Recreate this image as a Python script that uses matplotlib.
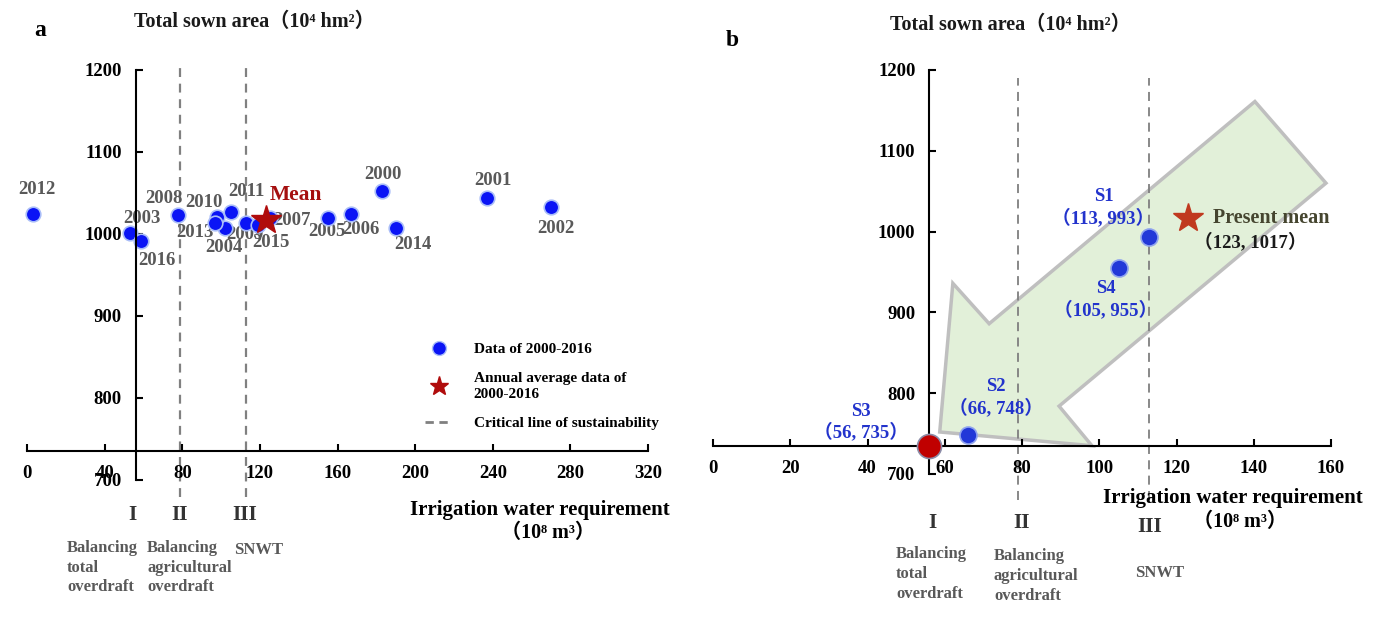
import matplotlib
matplotlib.use("Agg")
import matplotlib.pyplot as plt
from matplotlib.lines import Line2D
from matplotlib.patches import Polygon

plt.rcParams['font.family'] = ['Liberation Serif', 'Noto Sans CJK SC', 'DejaVu Serif']
plt.rcParams['font.weight'] = 'bold'

# ---- data: panel a (2000-2016)
years = ['2000', '2001', '2002', '2003', '2004', '2005', '2006', '2007', '2008',
         '2009', '2010', '2011', '2012', '2013', '2014', '2015', '2016']
water_a = [183, 237, 270, 53, 102, 155, 167, 125, 78, 113, 98, 105, 3, 97, 190, 119, 59]
area_a = [1052, 1044, 1033, 1001, 1007, 1020, 1024, 1020, 1023, 1013, 1021, 1027,
          1024, 1014, 1007, 1011, 991]
mean_water = 123
mean_area = 1017

# critical lines (I is the y axis itself)
origin_water = 56
origin_area = 735
critical_water = [79, 113]

# ---- data: panel b (scenarios)
scen_names = ['S1', 'S2', 'S3', 'S4']
scen_water = [113, 66, 56, 105]
scen_area = [993, 748, 735, 955]

# big arrow outline (panel b, data units)
arrow_water = [140.3, 158.7, 89.6, 98.1, 58.7, 62.1, 71.5]
arrow_area = [1161, 1060, 784, 735, 752, 936, 886]

ticks_a = [0, 40, 80, 120, 160, 200, 240, 280, 320]
ticks_b = [0, 20, 40, 60, 80, 100, 120, 140, 160]
ticks_y = [700, 800, 900, 1000, 1100, 1200]

# label offsets in pixels (layout only)
year_offsets = {
    '2012': (4, 25), '2003': (12, 15), '2016': (15, -19), '2008': (-14, 17),
    '2010': (-13, 14), '2013': (-20, -10), '2004': (-1, -19), '2011': (16, 20),
    '2009': (-1, -11), '2007': (22, -3), '2015': (13, -18), '2005': (-1, -14),
    '2006': (10, -15), '2000': (1, 17), '2014': (17, -16), '2001': (6, 17),
    '2002': (5, -22),
}
scen_offsets = {'S1': (-46, 10), 'S2': (28, 18), 'S3': (-68, 4), 'S4': (-13, -12)}

W, H = 1380, 620
fig = plt.figure(figsize=(13.8, 6.2), dpi=100)


def fx(x, y):
    return x / W, 1 - y / H


def style_axes(ax, xticks):
    for s in ['top', 'right']:
        ax.spines[s].set_visible(False)
    ax.spines['left'].set_position(('data', origin_water))
    ax.spines['bottom'].set_position(('data', origin_area))
    ax.spines['left'].set_bounds(700, 1200)
    ax.spines['bottom'].set_bounds(xticks[0], xticks[-1])
    for s in ['left', 'bottom']:
        ax.spines[s].set_linewidth(1.5)
        ax.spines[s].set_zorder(4)
    ax.set_xticks(xticks)
    ax.set_yticks(ticks_y)
    ax.tick_params(direction='in', length=5, width=1.5, pad=10, labelsize=13.5)
    ax.set_ylim(700, 1200)
    ax.set_facecolor('none')
    for lab in ax.get_xticklabels() + ax.get_yticklabels():
        lab.set_fontweight('bold')


# ================= panel a
ax1 = fig.add_axes([27 / W, 1 - 480 / H, 621 / W, 410 / H])
ax1.set_xlim(0, 320)
style_axes(ax1, ticks_a)

for xv in critical_water:
    ax1.plot([xv, xv], [679, 1205], ls=(0, (4, 3)), lw=1.6, color='#808080',
             zorder=1, clip_on=False)

ax1.scatter(water_a, area_a, s=110, color='#0A14F5', edgecolors='#A9BDF8',
            linewidths=1.2, zorder=3, clip_on=False)
ax1.plot(mean_water, mean_area, marker='*', ms=22, color='#B00C0C', ls='none', zorder=5)

for yr, xv, yv in zip(years, water_a, area_a):
    dx, dy = year_offsets[yr]
    ax1.annotate(yr, (xv, yv), xytext=(dx, dy), textcoords='offset pixels',
                 ha='center', va='center', fontsize=13.5, color='#595959',
                 fontweight='bold', zorder=2)
ax1.annotate('Mean', (mean_water, mean_area), xytext=(30, 25), textcoords='offset pixels',
             ha='center', va='center', fontsize=15.5, color='#A50F0F', fontweight='bold')

h1 = Line2D([], [], ls='none', marker='o', ms=10, mfc='#0A14F5', mec='#A9BDF8')
h2 = Line2D([], [], ls='none', marker='*', ms=14, color='#B00C0C', mec='#B00C0C')
h3 = Line2D([], [], ls=(0, (3, 2)), lw=2, color='#808080')
leg = fig.legend([h1, h2, h3],
                 ['Data of 2000-2016', 'Annual average data of\n2000-2016',
                  'Critical line of sustainability'],
                 loc='upper left', bbox_to_anchor=fx(411, 329), frameon=False,
                 prop={'size': 11, 'weight': 'bold'}, handlelength=1.8,
                 handletextpad=1.4, labelspacing=1.0)
for t in leg.get_texts():
    t.set_linespacing(1.35)

fig.text(*fx(40, 30), 'a', fontsize=17, fontweight='bold', ha='center', va='center')
fig.text(*fx(254, 22), 'Total sown area（10⁴ hm²）', fontsize=14.5,
         fontweight='bold', ha='center', va='center', color='#1a1a1a')
fig.text(*fx(540, 510), 'Irrigation water requirement', fontsize=15,
         fontweight='bold', ha='center', va='center')
fig.text(*fx(548, 533), '（10⁸ m³）', fontsize=14.5, fontweight='bold',
         ha='center', va='center')
for lab, xp in zip(['I', 'II', 'III'], [132, 180, 245]):
    fig.text(*fx(xp, 515), lab, fontsize=15.5, fontweight='bold', ha='center',
             va='center', color='#333333')
fig.text(*fx(67, 540), 'Balancing\ntotal\noverdraft', fontsize=12, fontweight='bold',
         ha='left', va='top', color='#595959', linespacing=1.3)
fig.text(*fx(147, 540), 'Balancing\nagricultural\noverdraft', fontsize=12,
         fontweight='bold', ha='left', va='top', color='#595959', linespacing=1.3)
fig.text(*fx(234, 542), 'SNWT', fontsize=12, fontweight='bold', ha='left',
         va='top', color='#595959')

# ================= panel b
ax2 = fig.add_axes([713 / W, 1 - 474 / H, 618 / W, 404 / H])
ax2.set_xlim(0, 160)
style_axes(ax2, ticks_b)

arrow = Polygon(list(zip(arrow_water, arrow_area)), closed=True, facecolor='#E2F0D9',
                edgecolor='#BFBFBF', lw=2.5, zorder=0.5)
ax2.add_patch(arrow)

for xv in critical_water:
    ax2.plot([xv, xv], [668, 1190], ls=(0, (5, 3.5)), lw=1.3, color='#7F7F7F',
             zorder=1, clip_on=False)

blue_idx = [0, 1, 3]
ax2.scatter([scen_water[i] for i in blue_idx], [scen_area[i] for i in blue_idx],
            s=150, color='#2238D8', edgecolors='#8FA3EE', linewidths=1.2, zorder=3)
ax2.scatter([scen_water[2]], [scen_area[2]], s=300, color='#C00000',
            edgecolors='#8C8CA8', linewidths=1.2, zorder=5, clip_on=False)
ax2.plot(mean_water, mean_area, marker='*', ms=22, color='#C0391F', ls='none', zorder=5)

for name, xv, yv in zip(scen_names, scen_water, scen_area):
    dx, dy = scen_offsets[name]
    ax2.annotate('%s\n（%d, %d）' % (name, xv, yv), (xv, yv), xytext=(dx, dy),
                 textcoords='offset pixels', ha='center', va='top' if dy < 0 else 'bottom',
                 fontsize=13.5, color='#2233CC', fontweight='bold', linespacing=1.2,
                 zorder=6)

ax2.annotate('Present mean', (mean_water, mean_area), xytext=(25, 0),
             textcoords='offset pixels', ha='left', va='center', fontsize=14.5,
             color='#45452F', fontweight='bold')
ax2.annotate('（%d, %d）' % (mean_water, mean_area), (mean_water, mean_area),
             xytext=(62, -24), textcoords='offset pixels', ha='center', va='center',
             fontsize=13.5, color='#1a1a1a', fontweight='bold')

fig.text(*fx(732, 40), 'b', fontsize=17, fontweight='bold', ha='center', va='center')
fig.text(*fx(1010, 25), 'Total sown area（10⁴ hm²）', fontsize=14.5,
         fontweight='bold', ha='center', va='center', color='#1a1a1a')
fig.text(*fx(1233, 498), 'Irrigation water requirement', fontsize=15,
         fontweight='bold', ha='center', va='center')
fig.text(*fx(1240, 522), '（10⁸ m³）', fontsize=14.5, fontweight='bold',
         ha='center', va='center')
for lab, xp, yp in zip(['I', 'II', 'III'], [932, 1022, 1150], [523, 523, 527]):
    fig.text(*fx(xp, yp), lab, fontsize=15.5, fontweight='bold', ha='center',
             va='center', color='#333333')
fig.text(*fx(896, 546), 'Balancing\ntotal\noverdraft', fontsize=12, fontweight='bold',
         ha='left', va='top', color='#595959', linespacing=1.35)
fig.text(*fx(994, 548), 'Balancing\nagricultural\noverdraft', fontsize=12,
         fontweight='bold', ha='left', va='top', color='#595959', linespacing=1.35)
fig.text(*fx(1135, 565), 'SNWT', fontsize=12, fontweight='bold', ha='left',
         va='top', color='#595959')

fig.savefig('out.png', dpi=100)
